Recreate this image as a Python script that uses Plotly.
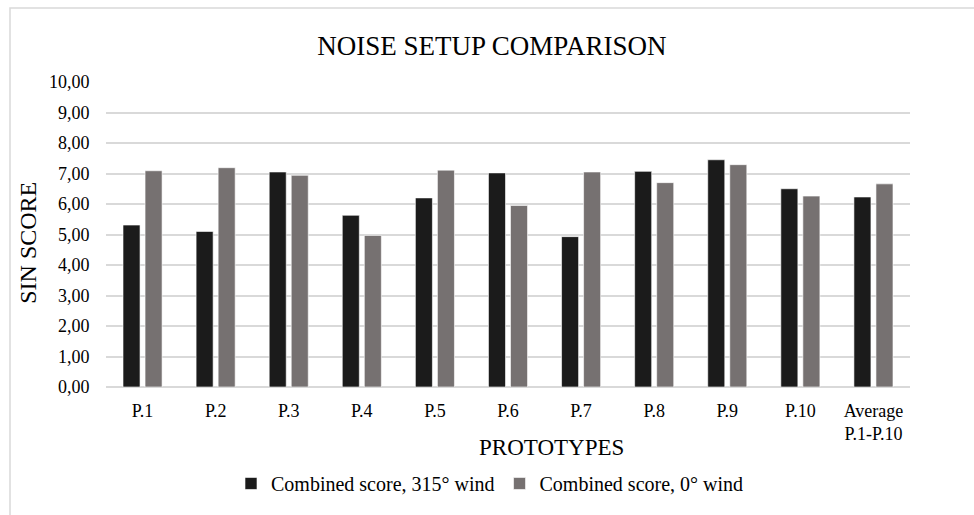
import plotly.graph_objects as go

categories = ["P.1", "P.2", "P.3", "P.4", "P.5", "P.6", "P.7", "P.8", "P.9", "P.10", "Average<br>P.1-P.10"]
score_315 = [5.31, 5.10, 7.05, 5.63, 6.20, 7.02, 4.93, 7.07, 7.45, 6.50, 6.23]
score_0 = [7.09, 7.19, 6.94, 4.97, 7.11, 5.95, 7.05, 6.70, 7.29, 6.26, 6.66]
series_names = ["Combined score, 315° wind", "Combined score, 0° wind"]
y_ticks = [0, 1, 2, 3, 4, 5, 6, 7, 8, 9, 10]

FONT = "Liberation Serif, Times New Roman, serif"
W, H = 974, 515
L, R, T, B = 106, 64, 82, 120
pw, ph = W - L - R, H - T - B

def px_x(x):
    return (x - L) / pw

def px_y(y):
    return (H - B - y) / ph

fig = go.Figure()
fig.add_trace(go.Bar(x=categories, y=score_315, name=series_names[0],
                     marker=dict(color="#1b1b1b", line=dict(color="#ffffff", width=0.6))))
fig.add_trace(go.Bar(x=categories, y=score_0, name=series_names[1],
                     marker=dict(color="#767171", line=dict(color="#ffffff", width=0.6))))

fig.update_layout(
    width=W, height=H,
    margin=dict(l=L, r=R, t=T, b=B),
    paper_bgcolor="white", plot_bgcolor="white",
    separators=",.",
    barmode="group", bargap=0.397, bargroupgap=0.227,
    font=dict(family=FONT, color="#000000"),
    title=dict(text="NOISE SETUP COMPARISON", x=0.505, xanchor="center",
               y=1 - 46 / H, yanchor="middle", font=dict(size=27, family=FONT, color="#000")),
    showlegend=True,
    legend=dict(orientation="h", x=px_x(490), xanchor="center", y=px_y(494), yanchor="middle",
                font=dict(size=20, family=FONT), bgcolor="rgba(0,0,0,0)", itemwidth=30,
                traceorder="normal"),
    xaxis=dict(showgrid=False, showline=False, zeroline=False, ticks="outside", ticklen=7,
               tickcolor="rgba(0,0,0,0)", tickfont=dict(size=18, family=FONT), tickangle=0),
    yaxis=dict(range=[0, 10], tickvals=y_ticks, tickformat=".2f", showgrid=True,
               gridcolor="#d9d9d9", gridwidth=1.5, zeroline=True, zerolinecolor="#d9d9d9",
               zerolinewidth=1.5, showline=False, ticks="outside", ticklen=12,
               tickcolor="rgba(0,0,0,0)", tickfont=dict(size=18, family=FONT)),
    annotations=[
        dict(text="PROTOTYPES", xref="paper", yref="paper", x=px_x(551), y=px_y(457),
             xanchor="center", yanchor="middle", showarrow=False,
             font=dict(size=23, family=FONT, color="#000")),
        dict(text="SIN SCORE", xref="paper", yref="paper", x=px_x(28), y=px_y(247),
             xanchor="center", yanchor="middle", showarrow=False, textangle=-90,
             font=dict(size=24, family=FONT, color="#000")),
    ],
    shapes=[dict(type="rect", xref="paper", yref="paper", x0=px_x(10), x1=px_x(1000),
                 y0=px_y(540), y1=px_y(6), line=dict(color="#d9d9d9", width=1.5),
                 fillcolor="rgba(0,0,0,0)", layer="below")],
)

fig.write_html("out.html")
